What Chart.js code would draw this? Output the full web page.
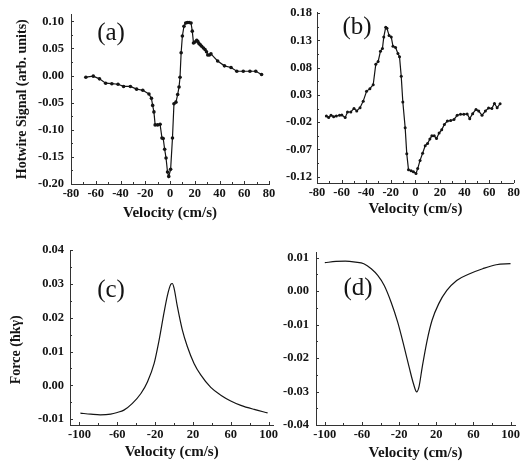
<!DOCTYPE html>
<html>
<head>
<meta charset="utf-8">
<script src="https://cdn.jsdelivr.net/npm/chart.js@4.4.0/dist/chart.umd.min.js"></script>
<style>
  body { margin: 0; background: #fff; }
  #wrap { position: relative; width: 522px; height: 465px; overflow: hidden; }
  canvas { position: absolute; }
</style>
</head>
<body>
<div id="wrap">
  <canvas id="chart-a" width="280" height="232" style="left:0;top:0"></canvas>
  <canvas id="chart-b" width="262" height="232" style="left:260px;top:0"></canvas>
  <canvas id="chart-c" width="280" height="233" style="left:0;top:232px"></canvas>
  <canvas id="chart-d" width="262" height="233" style="left:260px;top:232px"></canvas>
</div>
<script>
// (a) measured hotwire signal
const velA = [-68, -62, -57, -52, -47, -42, -37.5, -32, -27, -22, -17, -15, -14, -13, -12, -10, -8, -6.5, -5.5, -4.3,
  -3.2, -2, -1, 0.5, 2, 3.2, 4.8, 6.2, 7.3, 8.1, 9, 10, 11.3, 12.7, 14, 15.5, 17, 18, 19, 20.2,
  21.6, 22.5, 23.4, 24.5, 25.6, 27, 28.3, 29.5, 30.5, 31.8, 33.1, 38.5, 44, 49.3, 54, 59.2, 64.6, 69.3, 74];
const sigA = [-0.003, -0.001, -0.006, -0.014, -0.015, -0.016, -0.020, -0.020, -0.025, -0.027, -0.034, -0.042, -0.055, -0.067, -0.091, -0.091, -0.090, -0.115, -0.116, -0.136,
  -0.152, -0.178, -0.186, -0.173, -0.115, -0.052, -0.049, -0.035, -0.021, -0.003, 0.042, 0.073, 0.091, 0.097, 0.098, 0.098, 0.097, 0.082, 0.060, 0.062,
  0.065, 0.063, 0.059, 0.057, 0.054, 0.051, 0.048, 0.044, 0.038, 0.038, 0.040, 0.027, 0.018, 0.015, 0.008, 0.008, 0.008, 0.008, 0.002];

// (b) measured hotwire signal, second run
const velB = [-72.4, -70.5, -68.6, -66.5, -64.3, -61.7, -59.8, -57.1, -55.2, -52.5, -49.9, -47.7, -45, -42.4, -39.7, -37, -34.3, -32.2, -30.3, -28.4,
  -26.8, -25.7, -24.1, -23.1, -21.4, -19.6, -18.2, -16.1, -14.2, -12.9, -11.5, -10.2, -8.3, -7, -5.6, -3.5, -1.6, 0.5, 1.9, 3.8,
  5.9, 8, 9.9, 11.8, 13.4, 15.3, 17.2, 19.3, 21.4, 23.6, 26, 28.7, 31.4, 34, 36.7, 39.4, 42.1, 44.2, 46.6, 49.3,
  51.5, 54.2, 56.9, 59.5, 62.2, 64.3, 66.5, 68.9];
const sigB = [-0.0086, -0.0116, -0.0073, -0.0098, -0.0086, -0.0073, -0.0067, -0.0116, -0.0013, -0.0013, 0.0053, 0.0005, 0.0065, 0.0186, 0.0366, 0.0414, 0.0487, 0.086, 0.091, 0.110,
  0.115, 0.136, 0.154, 0.152, 0.139, 0.136, 0.119, 0.117, 0.106, 0.100, 0.064, 0.017, -0.030, -0.078, -0.107, -0.109, -0.111, -0.114, -0.105, -0.090,
  -0.077, -0.063, -0.059, -0.051, -0.045, -0.045, -0.050, -0.040, -0.034, -0.024, -0.018, -0.017, -0.015, -0.0073, -0.0055, -0.0055, -0.0048, -0.0135, -0.0043, 0.0035,
  0.0005, -0.0073, 0.0005, 0.0058, 0.0053, 0.0143, 0.0065, 0.0140];

// (c) calculated force
const velC = [-99, -88, -78, -67, -60, -53, -44, -35, -28, -21, -16, -10.6, -7.1, -3.5, -1.8, 0, 3.5, 8.8, 14.1, 21.2, 28.3, 38.9, 49.5, 60, 70.7, 84.8, 99];
const forceC = [-0.0082, -0.0085, -0.0087, -0.0085, -0.0080, -0.0073, -0.0053, -0.0024, 0.0011, 0.0065, 0.0130, 0.0214, 0.0264, 0.0298, 0.0301, 0.0288, 0.0234, 0.0164, 0.0115, 0.0065, 0.0031, -0.0006, -0.0029, -0.0046, -0.0059, -0.0071, -0.0081];

// (d) calculated force
const velD = [-100, -88, -78, -67, -58, -50, -43, -36, -28.6, -21.6, -14.5, -9.2, -4.6, -1.1, 1.4, 4.9, 10.2, 15.5, 22.6, 31.4, 42, 56, 70, 84.5, 100];
const forceD = [0.0085, 0.0089, 0.0090, 0.0087, 0.0082, 0.0067, 0.0047, 0.0017, -0.0033, -0.0092, -0.0167, -0.0227, -0.0276, -0.0301, -0.0286, -0.0227, -0.0147, -0.0087, -0.0038, 0.0002, 0.0032, 0.0052, 0.0067, 0.0079, 0.0082];

// tick labels
const ticksXab = [-80, -60, -40, -20, 0, 20, 40, 60, 80];
const ticksYa = [-0.20, -0.15, -0.10, -0.05, 0.00, 0.05, 0.10];
const ticksYb = [-0.12, -0.07, -0.02, 0.03, 0.08, 0.13, 0.18];
const ticksXcd = [-100, -60, -20, 20, 60, 100];
const ticksYc = [-0.01, 0.00, 0.01, 0.02, 0.03, 0.04];
const ticksYd = [-0.04, -0.03, -0.02, -0.01, 0.00, 0.01];

const serif = "'Liberation Serif', 'DejaVu Serif', serif";
const ink = '#141414';

// inward tick marks + panel letter
const panelDecor = {
  id: 'panelDecor',
  afterDatasetsDraw(chart, args, opts) {
    const { ctx, chartArea: a, scales } = chart;
    const mids = arr => arr.slice(1).map((v, i) => (v + arr[i]) / 2);
    ctx.save();
    ctx.strokeStyle = '#333';
    ctx.lineWidth = 1;
    ctx.beginPath();
    const xt = (v, len) => {
      const p = Math.round(scales.x.getPixelForValue(v)) + 0.5;
      ctx.moveTo(p, a.bottom); ctx.lineTo(p, a.bottom - len);
    };
    const yt = (v, len) => {
      const p = Math.round(scales.y.getPixelForValue(v)) + 0.5;
      ctx.moveTo(a.left, p); ctx.lineTo(a.left + len, p);
    };
    opts.xTicks.forEach(v => xt(v, 3));
    mids(opts.xTicks).forEach(v => xt(v, 2));
    opts.yTicks.forEach(v => yt(v, 3));
    mids(opts.yTicks).forEach(v => yt(v, 2));
    ctx.stroke();
    ctx.fillStyle = ink;
    ctx.font = '25px ' + serif;
    ctx.textAlign = 'center';
    ctx.textBaseline = 'middle';
    ctx.fillText(opts.label, opts.labelX, opts.labelY);
    ctx.restore();
  }
};

function makePanel(id, p) {
  const points = p.xs.map((v, i) => ({ x: v, y: p.ys[i] }));
  return new Chart(document.getElementById(id), {
    type: 'line',
    data: {
      datasets: [{
        data: points,
        borderColor: ink,
        backgroundColor: ink,
        borderWidth: 1.2,
        pointRadius: p.dot,
        pointBorderWidth: 0,
        tension: p.smooth ? 0.4 : 0,
        cubicInterpolationMode: p.smooth ? 'monotone' : 'default'
      }]
    },
    options: {
      responsive: false,
      animation: false,
      events: [],
      layout: { padding: { top: p.top, right: p.right, left: 0, bottom: 0 } },
      plugins: {
        legend: { display: false },
        tooltip: { enabled: false },
        panelDecor: { xTicks: p.xTicks, yTicks: p.yTicks, label: p.label, labelX: p.labelX, labelY: p.labelY }
      },
      scales: {
        x: {
          type: 'linear',
          min: p.xMin, max: p.xMax,
          grid: { display: false, drawTicks: false },
          border: { display: true, color: '#333', width: 1 },
          afterBuildTicks: s => { s.ticks = p.xTicks.map(v => ({ value: v })); },
          afterFit: s => { s.height = p.xHeight; },
          ticks: {
            padding: 2,
            maxRotation: 0,
            color: ink,
            font: { family: serif, size: 12.5, weight: 'bold' },
            callback: v => String(v)
          },
          title: {
            display: true,
            text: 'Velocity (cm/s)',
            color: ink,
            font: { family: serif, size: 15, weight: 'bold' },
            padding: { top: 0, bottom: p.xTitlePad }
          }
        },
        y: {
          min: p.yMin, max: p.yMax,
          grid: { display: false, drawTicks: false },
          border: { display: true, color: '#333', width: 1 },
          afterBuildTicks: s => { s.ticks = p.yTicks.map(v => ({ value: v })); },
          afterFit: s => { s.width = p.yWidth; },
          ticks: {
            padding: p.yTickPad,
            color: ink,
            font: { family: serif, size: 12.5, weight: 'bold' },
            callback: v => v.toFixed(2)
          },
          title: {
            display: !!p.yTitle,
            text: p.yTitle || '',
            color: ink,
            font: { family: serif, size: 14, weight: 'bold' },
            padding: { top: p.yTitlePad || 0, bottom: 0 }
          }
        }
      }
    },
    plugins: [panelDecor]
  });
}

makePanel('chart-a', {
  xs: velA, ys: sigA, dot: 1.8, smooth: false,
  xMin: -80, xMax: 80, yMin: -0.20, yMax: 0.1127,
  xTicks: ticksXab, yTicks: ticksYa,
  top: 11, right: 11, yWidth: 71, xHeight: 48, yTickPad: 7, xTitlePad: 10,
  yTitle: 'Hotwire Signal (arb. units)', yTitlePad: 14,
  label: '(a)', labelX: 111, labelY: 33
});

makePanel('chart-b', {
  xs: velB, ys: sigB, dot: 1.5, smooth: false,
  xMin: -80, xMax: 80, yMin: -0.1314, yMax: 0.181,
  xTicks: ticksXab, yTicks: ticksYb,
  top: 10, right: 7, yWidth: 57, xHeight: 49, yTickPad: 5, xTitlePad: 14,
  label: '(b)', labelX: 97, labelY: 27
});

makePanel('chart-c', {
  xs: velC, ys: forceC, dot: 0, smooth: true,
  xMin: -110, xMax: 105, yMin: -0.0117, yMax: 0.04,
  xTicks: ticksXcd, yTicks: ticksYc,
  top: 18, right: 4, yWidth: 70, xHeight: 40, yTickPad: 6, xTitlePad: 4,
  // trailing spaces push the rotated title a little lower, as in the figure
  yTitle: 'Force (\u0127k\u03b3)\u00a0\u00a0\u00a0\u00a0\u00a0\u00a0\u00a0', yTitlePad: 8,
  label: '(c)', labelX: 111, labelY: 58
});

makePanel('chart-d', {
  xs: velD, ys: forceD, dot: 0, smooth: true,
  xMin: -109.5, xMax: 105, yMin: -0.04, yMax: 0.0117,
  xTicks: ticksXcd, yTicks: ticksYd,
  top: 20, right: 4, yWidth: 56, xHeight: 40, yTickPad: 7, xTitlePad: 3,
  label: '(d)', labelX: 98, labelY: 56
});
</script>
</body>
</html>
